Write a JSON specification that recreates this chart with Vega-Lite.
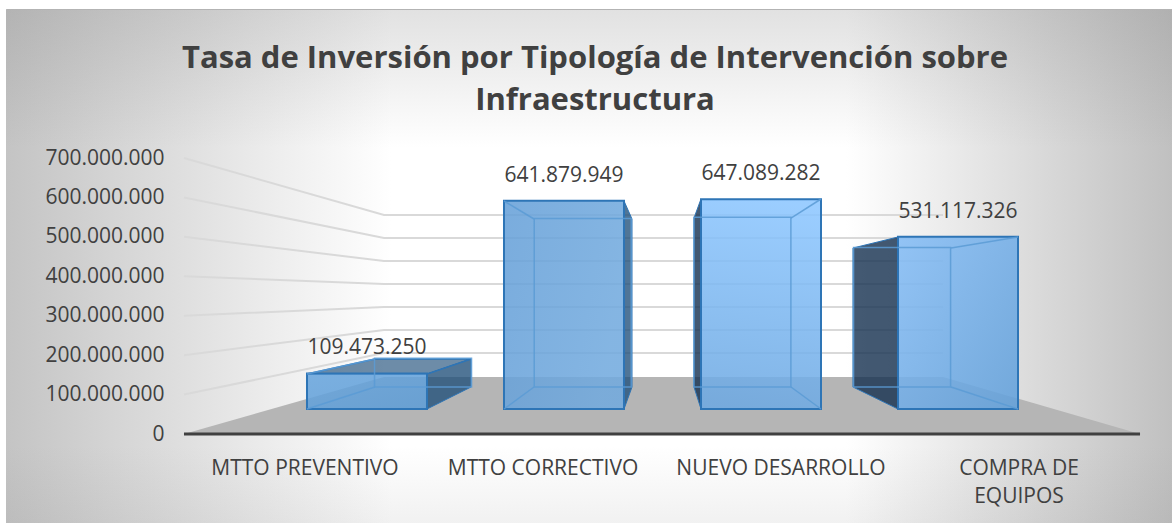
{
"$schema":"https://vega.github.io/schema/vega-lite/v6.json",
"width":1166,"height":514,
"autosize":{"type":"none"},
"padding":{"left":6,"top":9,"right":0,"bottom":0},
"background":"white",
"title":{"text":["Tasa de Inversión por Tipología de Intervención sobre","Infraestructura"],"anchor":"middle","frame":"group","font":"Open Sans","fontWeight":"bold","fontSize":31,"lineHeight":42,"color":"#404040","orient":"top","offset":-108,"dx":6},
"config":{"locale":{"number":{"decimal":",","thousands":".","grouping":[3],"currency":["","€"]}},
"view":{"stroke":null},"axis":{"labelFont":"Open Sans","labelFontSize":21,"labelColor":"#404040"},
"text":{"font":"Open Sans"}},
"view":{"stroke":"#c4c4c4","fill":{"gradient":"linear","x1":0,"y1":0,"x2":1,"y2":0,"stops":[{"offset":0,"color":"#c4c4c4"},{"offset":0.33,"color":"#ffffff"},{"offset":0.72,"color":"#ffffff"},{"offset":1,"color":"#c0c0c0"}]}},
"datasets":{
"barras":[
{"categoria":"MTTO PREVENTIVO","inversion":109473250},
{"categoria":"MTTO CORRECTIVO","inversion":641879949},
{"categoria":"NUEVO DESARROLLO","inversion":647089282},
{"categoria":"COMPRA DE EQUIPOS","inversion":531117326}],
"rejilla":[
{"nivel":100,"p":-0.929,"v":100000000},{"nivel":100,"p":0.0863,"v":205400000},{"nivel":100,"p":2.924,"v":205400000},
{"nivel":200,"p":-0.929,"v":200000000},{"nivel":200,"p":0.0863,"v":263800000},{"nivel":200,"p":2.924,"v":263800000},
{"nivel":300,"p":-0.929,"v":300000000},{"nivel":300,"p":0.0863,"v":322100000},{"nivel":300,"p":2.924,"v":322100000},
{"nivel":400,"p":-0.929,"v":400000000},{"nivel":400,"p":0.0863,"v":380400000},{"nivel":400,"p":2.924,"v":380400000},
{"nivel":500,"p":-0.929,"v":500000000},{"nivel":500,"p":0.0863,"v":438800000},{"nivel":500,"p":2.924,"v":438800000},
{"nivel":600,"p":-0.929,"v":600000000},{"nivel":600,"p":0.0863,"v":497100000},{"nivel":600,"p":2.924,"v":497100000},
{"nivel":700,"p":-0.929,"v":700000000},{"nivel":700,"p":0.0863,"v":555400000},{"nivel":700,"p":2.924,"v":555400000}],
"suelo":[{"v":0,"p":-0.929,"p2":3.924},{"v":144600000,"p":0.0863,"p2":2.924}],
"derecha":[
{"cara":"b1","p":0.3046,"alto":152200000,"bajo":63400000},{"cara":"b1","p":0.5279,"alto":190200000,"bajo":119200000},
{"cara":"b2","p":1.3046,"alto":590900000,"bajo":63400000},{"cara":"b2","p":1.3452,"alto":545300000,"bajo":119200000}],
"izquierda":[
{"cara":"b3","p":1.6599,"alto":547800000,"bajo":119200000},{"cara":"b3","p":1.6954,"alto":596000000,"bajo":63400000},
{"cara":"b4","p":2.467,"alto":471700000,"bajo":119200000},{"cara":"b4","p":2.6954,"alto":499600000,"bajo":63400000}],
"tapa":[{"v":152200000,"p":-0.3046,"p2":0.3046},{"v":190200000,"p":0.0406,"p2":0.5279}],
"aristas":[
{"a":"e1","p":-0.3046,"v":63400000},{"a":"e1","p":0.0406,"v":119200000},
{"a":"e2","p":-0.3046,"v":152200000},{"a":"e2","p":0.0406,"v":190200000},
{"a":"e3","p":0.6954,"v":590900000},{"a":"e3","p":0.8477,"v":545300000},
{"a":"e4","p":0.6954,"v":63400000},{"a":"e4","p":0.8477,"v":119200000},
{"a":"e5","p":2.3046,"v":596000000},{"a":"e5","p":2.1523,"v":547800000},
{"a":"e6","p":2.3046,"v":63400000},{"a":"e6","p":2.1523,"v":119200000},
{"a":"e7","p":3.3046,"v":499600000},{"a":"e7","p":2.9645,"v":471700000},
{"a":"e8","p":3.3046,"v":63400000},{"a":"e8","p":2.9645,"v":119200000}]
},
"data":{"name":"barras"},
"resolve":{"scale":{"x":"independent","y":"independent"},"axis":{"x":"independent","y":"independent"}},
"layer":[
{"data":{"values":[{"capa":"luz"}]},"mark":{"type":"rect","fill":{"gradient":"linear","x1":0,"y1":0,"x2":0,"y2":1,"stops":[{"offset":0,"color":"rgba(120,120,120,0.22)"},{"offset":0.27,"color":"rgba(120,120,120,0)"},{"offset":0.85,"color":"rgba(120,120,120,0)"},{"offset":1,"color":"rgba(120,120,120,0.1)"}]}},"encoding":{}},
{"data":{"name":"rejilla"},"mark":{"type":"line","stroke":"#d9d9d9","strokeWidth":2},
 "encoding":{"x":{"field":"p","type":"quantitative","axis":null,"scale":{"domain":[-1,4],"range":[164,1149]},"sort":null},
 "y":{"field":"v","type":"quantitative","scale":{"domain":[0,700000000],"range":[425,149]},"axis":{"title":null,"format":",d","values":[0,100000000,200000000,300000000,400000000,500000000,600000000,700000000],"ticks":false,"domain":false,"grid":false,"offset":-160,"labelPadding":2}},
 "detail":{"field":"nivel"}}},
{"data":{"name":"suelo"},"mark":{"type":"area","orient":"horizontal","fill":"#b5b5b5"},
 "encoding":{"y":{"field":"v","type":"quantitative","axis":null,"scale":{"domain":[0,700000000],"range":[425,149]}},
 "x":{"field":"p","type":"quantitative","axis":null,"scale":{"domain":[-1,4],"range":[164,1149]}},"x2":{"field":"p2"}}},
{"data":{"values":[{"v":0,"p":-0.929,"p2":3.924}]},"mark":{"type":"rule","stroke":"#404040","strokeWidth":3},
 "encoding":{"y":{"field":"v","type":"quantitative","axis":null,"scale":{"domain":[0,700000000],"range":[425,149]}},
 "x":{"field":"p","type":"quantitative","axis":null,"scale":{"domain":[-1,4],"range":[164,1149]}},"x2":{"field":"p2"}}},
{"data":{"name":"derecha"},"mark":{"type":"area","fill":"#1f4e79","fillOpacity":0.78,"stroke":"#2e75b6","strokeWidth":1},
 "encoding":{"x":{"field":"p","type":"quantitative","axis":null,"scale":{"domain":[-1,4],"range":[164,1149]}},
 "y":{"field":"alto","type":"quantitative","axis":null,"scale":{"domain":[0,700000000],"range":[425,149]}},"y2":{"field":"bajo"},"detail":{"field":"cara"}}},
{"data":{"name":"izquierda"},"mark":{"type":"area","fill":"#14304f","fillOpacity":0.8,"stroke":"#2e75b6","strokeWidth":1},
 "encoding":{"x":{"field":"p","type":"quantitative","axis":null,"scale":{"domain":[-1,4],"range":[164,1149]}},
 "y":{"field":"alto","type":"quantitative","axis":null,"scale":{"domain":[0,700000000],"range":[425,149]}},"y2":{"field":"bajo"},"detail":{"field":"cara"}}},
{"data":{"name":"tapa"},"mark":{"type":"area","orient":"horizontal","fill":"#1f4e79","fillOpacity":0.65,"stroke":"#2e75b6","strokeWidth":1.5},
 "encoding":{"y":{"field":"v","type":"quantitative","axis":null,"scale":{"domain":[0,700000000],"range":[425,149]}},
 "x":{"field":"p","type":"quantitative","axis":null,"scale":{"domain":[-1,4],"range":[164,1149]}},"x2":{"field":"p2"}}},
{"transform":[{"filter":"datum.categoria==='MTTO PREVENTIVO'"}],"mark":{"type":"rect","fill":{"gradient":"linear","x1":0,"y1":0,"x2":1,"y2":1,"stops":[{"offset":0,"color":"#68a5dd"},{"offset":1,"color":"#5e9dd6"}]},"fillOpacity":0.87,"stroke":"#2e75b6","strokeWidth":2},
 "encoding":{"x":{"field":"categoria","type":"nominal","sort":null,"axis":null,"scale":{"type":"band","domain":["MTTO PREVENTIVO","MTTO CORRECTIVO","NUEVO DESARROLLO","COMPRA DE EQUIPOS"],"range":[262.5,1050.5],"paddingInner":0.3909,"paddingOuter":0.1954}},
 "y":{"field":"inversion","type":"quantitative","axis":null,"scale":{"domain":[0,700000000],"range":[400,173]}},"y2":{"datum":0}}},
{"transform":[{"filter":"datum.categoria==='MTTO CORRECTIVO'"}],"mark":{"type":"rect","fill":{"gradient":"linear","x1":0,"y1":0,"x2":1,"y2":0.3,"stops":[{"offset":0,"color":"#66a0d8"},{"offset":1,"color":"#72aade"}]},"fillOpacity":0.87,"stroke":"#2e75b6","strokeWidth":2},
 "encoding":{"x":{"field":"categoria","type":"nominal","sort":null,"axis":null,"scale":{"type":"band","domain":["MTTO PREVENTIVO","MTTO CORRECTIVO","NUEVO DESARROLLO","COMPRA DE EQUIPOS"],"range":[262.5,1050.5],"paddingInner":0.3909,"paddingOuter":0.1954}},
 "y":{"field":"inversion","type":"quantitative","axis":null,"scale":{"domain":[0,700000000],"range":[400,173]}},"y2":{"datum":0}}},
{"transform":[{"filter":"datum.categoria==='NUEVO DESARROLLO'"}],"mark":{"type":"rect","fill":{"gradient":"linear","x1":0.5,"y1":0,"x2":0.4,"y2":1,"stops":[{"offset":0,"color":"#8cc6ff"},{"offset":1,"color":"#6ea9e2"}]},"fillOpacity":0.87,"stroke":"#2e75b6","strokeWidth":2},
 "encoding":{"x":{"field":"categoria","type":"nominal","sort":null,"axis":null,"scale":{"type":"band","domain":["MTTO PREVENTIVO","MTTO CORRECTIVO","NUEVO DESARROLLO","COMPRA DE EQUIPOS"],"range":[262.5,1050.5],"paddingInner":0.3909,"paddingOuter":0.1954}},
 "y":{"field":"inversion","type":"quantitative","axis":null,"scale":{"domain":[0,700000000],"range":[400,173]}},"y2":{"datum":0}}},
{"transform":[{"filter":"datum.categoria==='COMPRA DE EQUIPOS'"}],"mark":{"type":"rect","fill":{"gradient":"linear","x1":0,"y1":0,"x2":1,"y2":1,"stops":[{"offset":0,"color":"#84bcf5"},{"offset":1,"color":"#62a0da"}]},"fillOpacity":0.87,"stroke":"#2e75b6","strokeWidth":2},
 "encoding":{"x":{"field":"categoria","type":"nominal","sort":null,"axis":null,"scale":{"type":"band","domain":["MTTO PREVENTIVO","MTTO CORRECTIVO","NUEVO DESARROLLO","COMPRA DE EQUIPOS"],"range":[262.5,1050.5],"paddingInner":0.3909,"paddingOuter":0.1954}},
 "y":{"field":"inversion","type":"quantitative","axis":null,"scale":{"domain":[0,700000000],"range":[400,173]}},"y2":{"datum":0}}},
{"mark":{"type":"rect","fill":null,"stroke":"#5b9bd5","strokeWidth":1.5,"strokeOpacity":0.85},
 "encoding":{"x":{"field":"categoria","type":"nominal","sort":null,"axis":null,"scale":{"type":"band","domain":["MTTO PREVENTIVO","MTTO CORRECTIVO","NUEVO DESARROLLO","COMPRA DE EQUIPOS"],"range":[337.2,975.9],"paddingInner":0.3925,"paddingOuter":0.1962}},
 "y":{"field":"inversion","type":"quantitative","axis":null,"scale":{"domain":[0,700000000],"range":[378,194.25]}},"y2":{"datum":0}}},
{"data":{"name":"aristas"},"mark":{"type":"line","stroke":"#5b9bd5","strokeWidth":1.5,"strokeOpacity":0.85},
 "encoding":{"x":{"field":"p","type":"quantitative","axis":null,"scale":{"domain":[-1,4],"range":[164,1149]},"sort":null},
 "y":{"field":"v","type":"quantitative","axis":null,"scale":{"domain":[0,700000000],"range":[425,149]}},"detail":{"field":"a"}}},
{"mark":{"type":"rect","fillOpacity":0,"strokeOpacity":0},
 "encoding":{"x":{"field":"categoria","type":"nominal","sort":null,"scale":{"type":"band","domain":["MTTO PREVENTIVO","MTTO CORRECTIVO","NUEVO DESARROLLO","COMPRA DE EQUIPOS"],"range":[180,1132]},
  "axis":{"title":null,"ticks":false,"domain":false,"grid":false,"labelAngle":0,"labelLimit":300,"labelFontSize":21,"labelLineHeight":28,"offset":-66,"labelPadding":0,"labelExpr":"datum.label==='COMPRA DE EQUIPOS'?['COMPRA DE','EQUIPOS']:datum.label"}}}},
{"mark":{"type":"text","fontSize":21,"font":"Open Sans","color":"#404040","baseline":"middle","dy":-25},
 "encoding":{"x":{"field":"categoria","type":"nominal","sort":null,"axis":null,"scale":{"type":"band","domain":["MTTO PREVENTIVO","MTTO CORRECTIVO","NUEVO DESARROLLO","COMPRA DE EQUIPOS"],"range":[262.5,1050.5],"paddingInner":0.3909,"paddingOuter":0.1954}},
 "y":{"field":"inversion","type":"quantitative","axis":null,"scale":{"domain":[0,700000000],"range":[400,173]}},
 "text":{"field":"inversion","type":"quantitative","format":",d"}}}
]
}
